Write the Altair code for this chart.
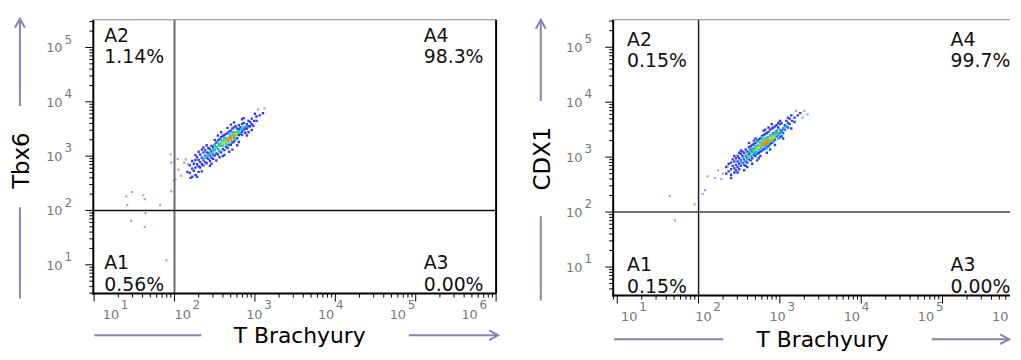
import altair as alt
import pandas as pd

# ---------------- data (log10 fluorescence values) ----------------
x_exponents = [1, 2, 3, 4, 5, 6]
y_exponents = [1, 2, 3, 4, 5]
minor_steps = [2, 3, 4, 5, 6, 7, 8, 9]
gate_x = 100
gate_y = 100
x_title = "T Brachyury"
markers = ["Tbx6", "CDX1"]
quadrant_names = ["A1", "A2", "A3", "A4"]
tbx6_pct = ["0.56%", "1.14%", "0.00%", "98.3%"]
cdx1_pct = ["0.15%", "0.15%", "0.00%", "99.7%"]

density_levels = ["sparse", "low", "mid", "high", "peak", "top"]

tbx6_sparse = [(3.12, 3.88), (1.95, 3.03), (1.96, 2.88), (2.01, 2.57), (1.96, 2.35), (2.05, 2.75),
               (2.14, 2.94), (2.17, 2.85), (2.08, 2.64), (2.12, 2.88), (2.27, 2.66), (2.04, 2.95),
               (1.40, 2.26), (1.47, 2.34), (1.61, 2.28), (1.63, 2.21), (1.41, 2.10), (1.82, 2.10),
               (1.99, 2.55), (1.64, 1.95), (1.46, 1.81), (1.63, 1.70), (1.90, 1.08), (3.04, 3.86)]
tbx6_low = [(2.16, 2.71), (2.19, 2.83), (2.19, 2.69), (2.22, 2.77), (2.22, 2.91), (2.24, 2.73),
            (2.24, 2.86), (2.26, 2.93), (2.26, 2.79), (2.26, 2.65), (2.28, 2.85), (2.28, 2.98),
            (2.30, 2.81), (2.30, 2.93), (2.30, 2.71), (2.32, 2.89), (2.32, 3.03), (2.32, 2.79),
            (2.34, 2.97), (2.34, 2.85), (2.36, 2.93), (2.36, 3.07), (2.36, 2.83), (2.38, 3.01),
            (2.38, 2.89), (2.38, 3.11), (2.40, 2.97), (2.40, 3.07), (2.40, 2.87), (2.42, 3.05),
            (2.42, 2.95), (2.42, 3.15), (2.44, 3.01), (2.44, 3.13), (2.44, 2.91), (2.46, 3.09),
            (2.46, 2.97), (2.46, 3.19), (2.48, 3.03), (2.48, 3.17), (2.48, 2.95), (2.50, 3.21),
            (2.50, 3.01), (2.52, 3.05), (2.52, 3.25), (2.54, 3.29), (2.54, 3.03), (2.56, 3.09),
            (2.56, 3.31), (2.58, 3.35), (2.58, 3.07), (2.60, 3.13), (2.60, 3.37), (2.62, 3.39),
            (2.62, 3.11), (2.64, 3.17), (2.64, 3.41), (2.66, 3.43), (2.66, 3.15), (2.68, 3.21),
            (2.68, 3.45), (2.70, 3.47), (2.70, 3.21), (2.72, 3.25), (2.72, 3.51), (2.74, 3.53),
            (2.74, 3.27), (2.76, 3.31), (2.76, 3.55), (2.76, 3.43), (2.78, 3.33), (2.78, 3.51),
            (2.80, 3.39), (2.80, 3.57), (2.80, 3.49), (2.82, 3.41), (2.82, 3.53), (2.84, 3.45),
            (2.84, 3.59), (2.84, 3.39), (2.86, 3.49), (2.86, 3.61), (2.88, 3.51), (2.88, 3.43),
            (2.90, 3.59), (2.90, 3.51), (2.92, 3.55), (2.92, 3.65), (2.94, 3.63), (2.94, 3.55),
            (2.96, 3.59), (2.96, 3.69), (2.99, 3.65), (3.02, 3.73), (3.02, 3.65), (3.06, 3.75),
            (3.10, 3.79), (2.30, 3.08), (2.34, 2.72), (2.40, 3.20), (2.44, 2.82), (2.50, 3.30),
            (2.52, 2.92), (2.58, 3.44), (2.60, 3.00), (2.66, 3.52), (2.68, 3.08), (2.72, 3.12),
            (2.74, 3.62), (2.80, 3.26), (2.84, 3.68), (2.90, 3.38), (2.96, 3.48), (3.00, 3.78),
            (2.26, 3.02), (2.20, 2.60), (2.36, 3.16), (2.28, 2.62), (2.34, 3.12), (2.46, 2.86),
            (2.54, 3.38), (2.62, 3.02), (2.70, 3.58), (2.78, 3.20), (2.86, 3.70), (2.92, 3.44),
            (2.98, 3.56), (2.22, 2.62), (2.56, 2.98)]
tbx6_mid = [(2.36, 2.95), (2.39, 2.99), (2.42, 3.01), (2.44, 3.07), (2.47, 3.05), (2.48, 3.13),
            (2.50, 3.11), (2.52, 3.17), (2.54, 3.13), (2.55, 3.23), (2.57, 3.19), (2.59, 3.25),
            (2.60, 3.19), (2.62, 3.29), (2.64, 3.23), (2.65, 3.33), (2.67, 3.27), (2.69, 3.37),
            (2.70, 3.29), (2.72, 3.39), (2.74, 3.33), (2.75, 3.43), (2.77, 3.39), (2.79, 3.45),
            (2.81, 3.43), (2.83, 3.49), (2.86, 3.53), (2.89, 3.55), (2.50, 3.20), (2.56, 3.10),
            (2.62, 3.34), (2.66, 3.20), (2.72, 3.44), (2.76, 3.32), (2.58, 3.30), (2.68, 3.42)]
tbx6_high = [(2.52, 3.15), (2.55, 3.19), (2.57, 3.23), (2.59, 3.21), (2.61, 3.27), (2.63, 3.29),
             (2.65, 3.28), (2.67, 3.33), (2.69, 3.33), (2.71, 3.37), (2.73, 3.39), (2.75, 3.39),
             (2.77, 3.43), (2.48, 3.09), (2.80, 3.45), (2.60, 3.26), (2.70, 3.30)]
tbx6_peak = [(2.60, 3.23), (2.64, 3.27), (2.68, 3.31), (2.72, 3.35), (2.76, 3.40)]
tbx6_top = [(2.66, 3.30), (2.70, 3.33), (2.74, 3.37)]

cdx1_sparse = [(3.30, 3.84), (3.28, 3.72), (3.34, 3.78), (3.20, 3.84), (2.11, 2.65), (2.08, 2.40),
               (2.05, 2.33), (2.24, 2.76), (2.30, 2.70), (2.36, 2.83), (2.28, 2.60), (2.20, 2.62),
               (1.645, 2.29), (1.95, 2.14), (1.71, 1.85)]
cdx1_low = [(2.34, 2.70), (2.34, 2.82), (2.37, 2.74), (2.37, 2.88), (2.40, 2.78), (2.40, 2.90),
            (2.40, 2.68), (2.42, 2.84), (2.42, 2.96), (2.44, 2.80), (2.44, 2.92), (2.44, 2.72),
            (2.46, 2.86), (2.46, 2.98), (2.46, 2.76), (2.48, 2.92), (2.48, 2.82), (2.48, 3.02),
            (2.50, 2.88), (2.50, 2.98), (2.50, 2.78), (2.52, 2.94), (2.52, 3.06), (2.52, 2.84),
            (2.54, 2.90), (2.54, 3.02), (2.54, 3.10), (2.56, 2.96), (2.56, 2.86), (2.56, 3.08),
            (2.58, 3.02), (2.58, 2.92), (2.58, 3.14), (2.60, 2.98), (2.60, 3.10), (2.60, 2.90),
            (2.62, 3.06), (2.62, 3.18), (2.62, 2.96), (2.64, 3.02), (2.64, 3.14), (2.64, 2.94),
            (2.66, 3.10), (2.66, 3.22), (2.66, 2.98), (2.68, 3.04), (2.68, 3.24), (2.68, 3.16),
            (2.70, 3.26), (2.70, 3.02), (2.72, 3.06), (2.72, 3.30), (2.74, 3.32), (2.74, 3.08),
            (2.76, 3.10), (2.76, 3.34), (2.78, 3.38), (2.78, 3.12), (2.80, 3.14), (2.80, 3.40),
            (2.82, 3.42), (2.82, 3.16), (2.84, 3.18), (2.84, 3.44), (2.86, 3.46), (2.86, 3.20),
            (2.88, 3.24), (2.88, 3.50), (2.90, 3.52), (2.90, 3.26), (2.92, 3.30), (2.92, 3.54),
            (2.92, 3.44), (2.94, 3.32), (2.94, 3.56), (2.96, 3.38), (2.96, 3.58), (2.96, 3.48),
            (2.98, 3.40), (2.98, 3.54), (3.00, 3.44), (3.00, 3.60), (3.00, 3.36), (3.02, 3.48),
            (3.02, 3.62), (3.04, 3.52), (3.04, 3.44), (3.06, 3.58), (3.06, 3.50), (3.08, 3.56),
            (3.08, 3.66), (3.10, 3.62), (3.10, 3.54), (3.12, 3.60), (3.12, 3.70), (3.15, 3.66),
            (3.18, 3.72), (3.18, 3.64), (3.22, 3.76), (3.25, 3.80), (2.50, 3.08), (2.56, 2.76),
            (2.62, 3.26), (2.66, 2.88), (2.70, 3.34), (2.74, 2.98), (2.80, 3.48), (2.84, 3.08),
            (2.90, 3.60), (2.94, 3.22), (3.00, 3.66), (3.04, 3.34), (3.10, 3.72), (2.44, 3.02),
            (2.40, 2.62), (3.14, 3.52), (2.58, 2.84), (2.86, 3.54), (2.48, 2.72), (2.52, 3.12),
            (2.60, 2.82), (2.68, 3.30), (2.76, 3.02), (2.82, 3.50), (2.88, 3.14), (2.98, 3.62),
            (3.02, 3.38), (3.14, 3.76), (2.64, 3.20), (2.72, 2.94)]
cdx1_mid = [(2.52, 2.92), (2.55, 2.98), (2.57, 2.92), (2.59, 3.04), (2.61, 2.98), (2.63, 3.10),
            (2.65, 3.02), (2.66, 3.14), (2.68, 3.08), (2.70, 3.20), (2.71, 3.10), (2.73, 3.22),
            (2.74, 3.14), (2.76, 3.26), (2.77, 3.16), (2.79, 3.30), (2.80, 3.20), (2.82, 3.34),
            (2.83, 3.22), (2.85, 3.36), (2.86, 3.26), (2.88, 3.40), (2.89, 3.30), (2.91, 3.42),
            (2.93, 3.34), (2.95, 3.46), (2.97, 3.40), (3.00, 3.50), (3.02, 3.44), (3.05, 3.52),
            (3.08, 3.56), (2.64, 3.16), (2.72, 3.28), (2.78, 3.36), (2.84, 3.16), (2.92, 3.28),
            (2.98, 3.34), (2.70, 3.06)]
cdx1_high = [(2.62, 3.02), (2.65, 3.08), (2.68, 3.12), (2.70, 3.16), (2.72, 3.18), (2.74, 3.22),
             (2.76, 3.20), (2.78, 3.26), (2.80, 3.24), (2.82, 3.28), (2.84, 3.30), (2.86, 3.32),
             (2.88, 3.34), (2.90, 3.36), (2.92, 3.38), (2.95, 3.42), (2.98, 3.44), (2.75, 3.28),
             (2.85, 3.24), (2.80, 3.32), (2.90, 3.30)]
cdx1_peak = [(2.72, 3.15), (2.76, 3.22), (2.80, 3.27), (2.84, 3.29), (2.88, 3.33), (2.92, 3.36)]
cdx1_top = [(2.78, 3.23), (2.82, 3.26), (2.86, 3.30), (2.80, 3.25), (2.84, 3.28)]

# ---------------- styling ----------------
FONT = "DejaVu Sans"
ARROW = "#8c80b4"
TICKGRAY = "#777777"
level_colors = ["#a3a3f2", "#2f3cf4", "#1fb4e6", "#3edc62", "#c9d82c", "#f08a22"]
level_sizes = [5, 9, 20, 20, 20, 20]
one = pd.DataFrame({"k": [0]})


def points_df(groups):
    rows = []
    for lvl, pts in groups:
        for lx, ly in pts:
            rows.append({"x": 10 ** lx, "y": 10 ** ly, "level": lvl,
                         "rank": density_levels.index(lvl)})
    return pd.DataFrame(rows)


def tick_frames(lo, hi):
    major, minor = [], []
    for d in range(0, 7):
        for m in [1] + minor_steps:
            v = m * 10 ** d
            if 10 ** lo <= v <= 10 ** hi:
                (major if m == 1 else minor).append(v)
    return pd.DataFrame({"v": major}), pd.DataFrame({"v": minor})


def panel(marker, pct, groups, L):
    W, H = L["W"], L["H"]
    xs = alt.Scale(type="log", domain=[10 ** L["xd"][0], 10 ** L["xd"][1]], nice=False)
    ys = alt.Scale(type="log", domain=[10 ** L["yd"][0], 10 ** L["yd"][1]], nice=False)
    ls = alt.Scale(type="log", domain=[10 ** L["ld"][0], 10 ** L["ld"][1]], nice=False)

    df = points_df(groups)
    pts = alt.Chart(df).mark_square(opacity=1, clip=True).encode(
        x=alt.X("x:Q", scale=xs, axis=None),
        y=alt.Y("y:Q", scale=ys, axis=None),
        color=alt.Color("level:O", scale=alt.Scale(domain=density_levels, range=level_colors), legend=None),
        size=alt.Size("level:O", scale=alt.Scale(domain=density_levels, range=level_sizes), legend=None),
        order=alt.Order("rank:Q"),
    )

    gx = alt.Chart(pd.DataFrame({"g": [gate_x]})).mark_rule(
        color=L["gx_color"], strokeWidth=L["gx_w"]).encode(x=alt.X("g:Q", scale=xs, axis=None))
    gy = alt.Chart(pd.DataFrame({"g": [gate_y]})).mark_rule(
        color=L["gy_color"], strokeWidth=L["gy_w"]).encode(y=alt.Y("g:Q", scale=ys, axis=None))

    # frame, axis lines and ticks
    frame = [
        alt.Chart(one).mark_rule(color="#000", strokeWidth=2).encode(
            x=alt.value(0), y=alt.value(0), y2=alt.value(H + 1)),
        alt.Chart(one).mark_rule(color="#000", strokeWidth=2).encode(
            y=alt.value(H), x=alt.value(-1), x2=alt.value(W)),
        alt.Chart(one).mark_rule(color="#888", strokeWidth=1).encode(
            y=alt.value(0), x=alt.value(0), x2=alt.value(W)),
    ]
    if L["border"]:
        frame.append(alt.Chart(one).mark_rule(color="#000", strokeWidth=2).encode(
            x=alt.value(W), y=alt.value(0), y2=alt.value(H)))
    xmaj, xmin = tick_frames(*L["xd"])
    ymaj, ymin = tick_frames(*L["yd"])
    ticks = [
        alt.Chart(xmaj).mark_rule(color="#000", strokeWidth=1).encode(
            x=alt.X("v:Q", scale=xs, axis=None), y=alt.value(H), y2=alt.value(H + 8)),
        alt.Chart(xmin).mark_rule(color="#000", strokeWidth=1).encode(
            x=alt.X("v:Q", scale=xs, axis=None), y=alt.value(H), y2=alt.value(H + 4)),
        alt.Chart(ymaj).mark_rule(color="#000", strokeWidth=1).encode(
            y=alt.Y("v:Q", scale=ys, axis=None), x=alt.value(0), x2=alt.value(-8)),
        alt.Chart(ymin).mark_rule(color="#000", strokeWidth=1).encode(
            y=alt.Y("v:Q", scale=ys, axis=None), x=alt.value(0), x2=alt.value(-4)),
    ]

    # tick labels 10^n
    xl = pd.DataFrame({"v": [10 ** e for e in x_exponents], "e": [str(e) for e in x_exponents]})
    xl_ten = xl[xl.v <= 10 ** (L["xd"][1] + 0.2)]
    xl_sup = xl[xl.v <= 10 ** L["xd"][1] * 1.001]
    xten = alt.Chart(xl_ten).mark_text(text="10", align="center", baseline="middle", font=FONT,
                                       fontSize=13, color=TICKGRAY).encode(
        x=alt.X("v:Q", scale=ls, axis=None), y=alt.value(H + 22))
    xsup = alt.Chart(xl_sup).mark_text(align="left", baseline="middle", font=FONT, dx=10,
                                       fontSize=12, color=TICKGRAY).encode(
        x=alt.X("v:Q", scale=ls, axis=None), y=alt.value(H + 12), text="e:N")
    yl = pd.DataFrame({"v": [10 ** e for e in y_exponents], "e": [str(e) for e in y_exponents]})
    yten = alt.Chart(yl).mark_text(text="10", align="right", baseline="middle", font=FONT, dy=1,
                                   fontSize=13, color=TICKGRAY).encode(
        y=alt.Y("v:Q", scale=ys, axis=None), x=alt.value(-31))
    ysup = alt.Chart(yl).mark_text(align="left", baseline="middle", font=FONT, dy=-8,
                                   fontSize=12, color=TICKGRAY).encode(
        y=alt.Y("v:Q", scale=ys, axis=None), x=alt.value(-29), text="e:N")

    # quadrant labels (two lines each)
    qtext = []
    qpos = {"A1": (L["qx_l"], H - L["qb"]), "A2": (L["qx_l"], L["qt"]),
            "A3": (L["qx_r"], H - L["qb"]), "A4": (L["qx_r"], L["qt"])}
    for name, p in zip(quadrant_names, pct):
        px, py = qpos[name]
        for k, line in enumerate([name, p]):
            qtext.append(alt.Chart(one).mark_text(
                text=line, align="left", baseline="alphabetic",
                font=FONT, fontSize=19, color="#111").encode(
                x=alt.value(px), y=alt.value(py + 22 * k)))

    # axis arrows and titles
    ax = L["ya_x"]
    yarrow_lo = alt.Chart(one).mark_rule(color=ARROW, strokeWidth=2).encode(
        x=alt.value(ax), y=alt.value(L["ya_lo"][0]), y2=alt.value(L["ya_lo"][1]))
    yarrow_hi = alt.Chart(one).mark_rule(color=ARROW, strokeWidth=2).encode(
        x=alt.value(ax), y=alt.value(L["ya_hi"][0]), y2=alt.value(L["ya_hi"][1]))
    yhead = alt.Chart(one).mark_point(shape="M-1,1.8L0,0L1,1.8", filled=False, size=100,
                                      strokeWidth=2, color=ARROW, opacity=1).encode(
        x=alt.value(ax), y=alt.value(L["ya_hi"][1]))
    ytitle = alt.Chart(one).mark_text(text=marker, angle=270, align="center", baseline="middle",
                                      font=FONT, fontSize=23, color="#000").encode(
        x=alt.value(L["yt"][0]), y=alt.value(L["yt"][1]))
    ay = L["xa_y"]
    xarrow_l = alt.Chart(one).mark_rule(color=ARROW, strokeWidth=2).encode(
        y=alt.value(ay), x=alt.value(L["xa_l"][0]), x2=alt.value(L["xa_l"][1]))
    xarrow_r = alt.Chart(one).mark_rule(color=ARROW, strokeWidth=2).encode(
        y=alt.value(ay), x=alt.value(L["xa_r"][0]), x2=alt.value(L["xa_r"][1]))
    xhead = alt.Chart(one).mark_point(shape="M-1,1.8L0,0L1,1.8", filled=False, size=100, angle=90,
                                      strokeWidth=2, color=ARROW, opacity=1).encode(
        y=alt.value(ay), x=alt.value(L["xa_r"][1]))
    xtitle = alt.Chart(one).mark_text(text=x_title, align="center", baseline="alphabetic",
                                      font=FONT, fontSize=22, color="#000").encode(
        x=alt.value(L["xt"][0]), y=alt.value(L["xt"][1]))
    spacer = alt.Chart(one).mark_rule(strokeOpacity=0, strokeWidth=1).encode(
        x=alt.value(ax), y=alt.value(L["top_extra"]), y2=alt.value(0))

    layers = [pts, gx, gy] + frame + ticks + [xten, xsup, yten, ysup] + qtext + [
        yarrow_lo, yarrow_hi, yhead, ytitle, xarrow_l, xarrow_r, xhead, xtitle, spacer]
    return alt.layer(*layers).resolve_scale(x="independent").properties(width=W, height=H)


left_layout = dict(W=406, H=276, xd=(0.99, 6.0), yd=(0.47, 5.51), ld=(0.755, 6.37),
                   gx_color="#6a6a6a", gx_w=2, gy_color="#111", gy_w=1.5,
                   qx_l=11, qx_r=333, qt=22, qb=25,
                   ya_x=-74, ya_lo=(281, 189), ya_hi=(87, -1), yt=(-72, 142),
                   xa_y=318, xa_l=(1, 109), xa_r=(318, 408), xt=(208, 326),
                   top_extra=-7, border=True)
right_layout = dict(W=400, H=278, xd=(0.95, 5.83), yd=(0.48, 5.50), ld=(0.784, 6.132),
                    gx_color="#222", gx_w=1.5, gy_color="#444", gy_w=1.5,
                    qx_l=14, qx_r=340, qt=26, qb=25,
                    ya_x=-73, ya_lo=(283, 198), ya_hi=(82, 0), yt=(-71, 140),
                    xa_y=322, xa_l=(1, 111), xa_r=(321, 399), xt=(211, 330),
                    top_extra=0, border=False)

tbx6_groups = [("sparse", tbx6_sparse), ("low", tbx6_low), ("mid", tbx6_mid),
               ("high", tbx6_high), ("peak", tbx6_peak), ("top", tbx6_top)]
cdx1_groups = [("sparse", cdx1_sparse), ("low", cdx1_low), ("mid", cdx1_mid),
               ("high", cdx1_high), ("peak", cdx1_peak), ("top", cdx1_top)]

chart = alt.hconcat(
    panel(markers[0], tbx6_pct, tbx6_groups, left_layout),
    panel(markers[1], cdx1_pct, cdx1_groups, right_layout),
    spacing=30,
).properties(
    padding={"left": 3, "top": 3.5, "right": 0, "bottom": 0}
).configure_view(stroke=None)

chart.save("out.html", embed_options={"renderer": "svg", "actions": False})
